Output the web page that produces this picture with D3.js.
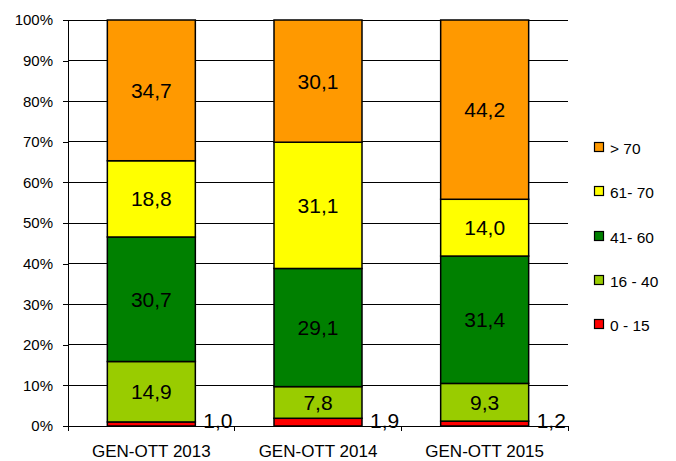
<!DOCTYPE html>
<html><head><meta charset="utf-8">
<script src="https://cdn.jsdelivr.net/npm/d3@7"></script>
<style>body{margin:0;background:#fff}svg{display:block;font-family:"Liberation Sans",Arial,sans-serif}</style>
</head><body><svg id="c" width="676" height="461"></svg>
<script>
const categories = ["GEN-OTT 2013", "GEN-OTT 2014", "GEN-OTT 2015"];
const seriesNames = ["0 - 15", "16 - 40", "41 - 60", "61 - 70", "> 70"];
const legendLabels = ["0 - 15", "16 - 40", "41- 60", "61- 70", "> 70"];
const colors = ["#FF0000", "#99CC00", "#008000", "#FFFF00", "#FF9900"];
const v0_15 = [1.0, 1.9, 1.2];
const v16_40 = [14.9, 7.8, 9.3];
const v41_60 = [30.7, 29.1, 31.4];
const v61_70 = [18.8, 31.1, 14.0];
const v70 = [34.7, 30.1, 44.2];
const yTicks = [0, 0.1, 0.2, 0.3, 0.4, 0.5, 0.6, 0.7, 0.8, 0.9, 1];

const series = [v0_15, v16_40, v41_60, v61_70, v70];
const rows = categories.map((c, i) => {
  const r = {cat: c};
  seriesNames.forEach((s, k) => r[s] = series[k][i]);
  return r;
});
const stacked = d3.stack().keys(seriesNames).offset(d3.stackOffsetExpand)(rows);

const svg = d3.select("#c");
const L = 68, R = 568, T = 20, B = 426;
const x = d3.scaleBand().domain(categories).range([L, R]).paddingInner(0).paddingOuter(0);
const y = d3.scaleLinear().domain([0, 1]).range([B, T]);
const barW = 88;

// gridlines
svg.append("g").selectAll("line").data(yTicks.slice(1)).join("line")
  .attr("x1", L).attr("x2", R).attr("y1", d => y(d)).attr("y2", d => y(d))
  .attr("stroke", "#000").attr("stroke-width", 1).attr("shape-rendering", "crispEdges");

// y axis
const ya = svg.append("g").attr("transform", `translate(${L},0)`)
  .call(d3.axisLeft(y).tickValues(yTicks).tickFormat(d3.format(".0%")).tickSize(5).tickPadding(10));
ya.select(".domain").attr("d", `M-5,${T}H0V${B}`).attr("shape-rendering", "crispEdges");
ya.selectAll(".tick line").attr("shape-rendering", "crispEdges");
ya.selectAll("text").attr("font-size", 15).attr("fill", "#000").style("font-family", "Liberation Sans, Arial, sans-serif");

// x axis
const xa = svg.append("g").attr("transform", `translate(0,${B})`)
  .call(d3.axisBottom(x).tickSize(0).tickPadding(20));
xa.select(".domain").remove();
xa.selectAll("text").attr("font-size", 17).attr("fill", "#000").attr("dy", "0.66em").style("font-family", "Liberation Sans, Arial, sans-serif");
const bounds = [L].concat(categories.map(c => x(c) + x.bandwidth()));
svg.append("line").attr("x1", L).attr("x2", R).attr("y1", B).attr("y2", B).attr("stroke", "#000").attr("shape-rendering", "crispEdges");
svg.append("g").selectAll("line").data(bounds).join("line")
  .attr("x1", d => d).attr("x2", d => d).attr("y1", B).attr("y2", B + 5)
  .attr("stroke", "#000").attr("shape-rendering", "crispEdges");

// bars
const g = svg.append("g");
stacked.forEach((s, k) => {
  g.append("g").selectAll("rect").data(s).join("rect")
    .attr("x", d => x(d.data.cat) + x.bandwidth() / 2 - barW / 2)
    .attr("width", barW)
    .attr("y", d => y(d[1]))
    .attr("height", d => y(d[0]) - y(d[1]))
    .attr("fill", colors[k]).attr("stroke", "#000").attr("stroke-width", 1.5);
});

// labels
const fmt = v => v.toFixed(1).replace(".", ",");
stacked.forEach((s, k) => {
  g.append("g").selectAll("text").data(s).join("text")
    .attr("x", d => k === 0 ? x(d.data.cat) + x.bandwidth() / 2 + barW / 2 + 8 : x(d.data.cat) + x.bandwidth() / 2)
    .attr("y", d => k === 0 ? B + 2 : (y(d[0]) + y(d[1])) / 2 + 7.5)
    .attr("text-anchor", k === 0 ? "start" : "middle")
    .attr("font-size", 21).attr("fill", "#000")
    .text((d, i) => fmt(series[k][i]));
});

// legend
const lg = svg.append("g");
const legY = [325, 281, 237, 192, 148];
seriesNames.forEach((s, k) => {
  lg.append("rect").attr("x", 594.5).attr("y", legY[k] - 5.5).attr("width", 9).attr("height", 9)
    .attr("fill", colors[k]).attr("stroke", "#000").attr("stroke-width", 1.2);
  lg.append("text").attr("x", 610).attr("y", legY[k] + 5.5).attr("font-size", 15.5).attr("fill", "#000")
    .text(legendLabels[k]);
});
</script></body></html>
